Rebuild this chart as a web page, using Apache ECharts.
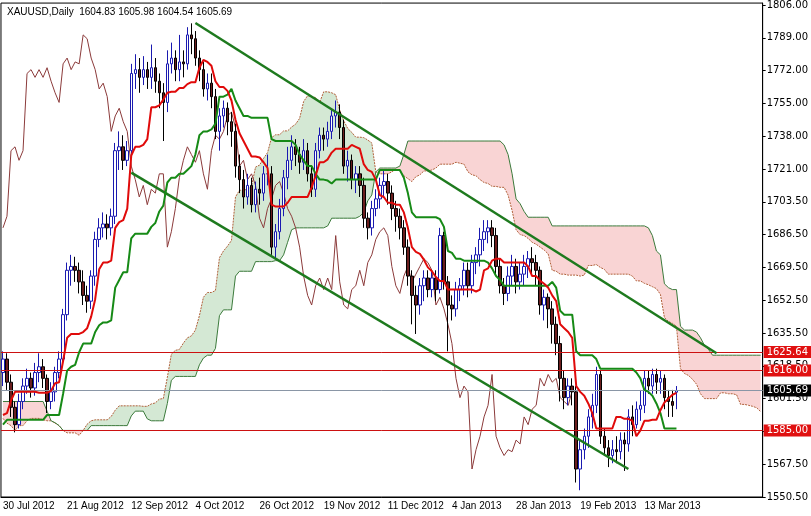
<!DOCTYPE html>
<html>
<head>
<meta charset="utf-8">
<script src="https://cdn.jsdelivr.net/npm/echarts@6/dist/echarts.min.js"></script>
<style>html,body{margin:0;padding:0;background:#fff}#main{width:811px;height:516px}</style>
</head>
<body>
<div id="main"></div>
<script>
// 标题
const titleText = 'XAUUSD,Daily  1604.83 1605.98 1604.54 1605.69'
// x轴日期标签 每16根K线一个
const xLabels = ['30 Jul 2012','21 Aug 2012','12 Sep 2012','4 Oct 2012','26 Oct 2012','19 Nov 2012','11 Dec 2012','4 Jan 2013','28 Jan 2013','19 Feb 2013','13 Mar 2013']
// y轴刻度标签
const yLabels = [1806.00,1789.00,1772.00,1755.00,1738.00,1721.00,1703.50,1686.50,1669.50,1652.50,1635.50,1618.50,1601.50,1584.50,1567.50,1550.50]
// 可见区间之前的最高/最低价 (用于一目均衡表计算)
const preHigh = [1655,1652,1645,1648,1650,1648,1645,1645,1660,1665,1668,1670,1660,1650,1648,1645,1640,1612,1600,1598,1590,1565,1555,1575,1600,1598,1590,1572,1565,1575,1580,1575,1560,1630,1625,1625,1640,1632,1605,1595,1600,1615,1625,1630,1628,1630,1625,1615,1595,1575,1595,1585,1580,1565,1605,1600,1625,1620,1615,1605,1590,1600,1575,1575,1595,1600,1590,1600,1590,1585,1582,1580,1605,1618,1625,1626,1622,1620]
const preLow = [1635,1638,1633,1635,1638,1636,1632,1636,1640,1650,1655,1652,1645,1632,1632,1630,1610,1590,1585,1578,1555,1540,1530,1535,1568,1575,1560,1550,1540,1555,1565,1555,1535,1545,1610,1605,1610,1580,1575,1570,1580,1590,1610,1612,1612,1615,1610,1580,1560,1560,1570,1570,1560,1550,1555,1590,1595,1605,1590,1575,1575,1575,1560,1555,1570,1575,1580,1580,1575,1570,1560,1562,1575,1600,1610,1605,1608,1605]
// K线 [开, 收, 低, 高]
const candles = [
[1615,1622,1608,1626],[1622,1610,1606,1625],[1610,1597,1592,1614],[1597,1588,1584,1600],[1588,1600,1586,1604],
[1600,1608,1596,1612],[1608,1612,1604,1617],[1612,1607,1602,1615],[1607,1615,1603,1620],[1615,1618,1610,1625],
[1618,1612,1607,1622],[1612,1600,1594,1614],[1600,1605,1596,1610],[1605,1615,1600,1618],[1615,1622,1612,1626],
[1622,1645,1618,1648],[1645,1668,1642,1672],[1668,1670,1660,1676],[1670,1668,1662,1675],[1668,1662,1656,1672],
[1662,1655,1650,1668],[1655,1652,1646,1660],[1652,1665,1648,1668],[1665,1684,1660,1688],[1684,1690,1680,1695],
[1690,1692,1685,1698],[1692,1690,1684,1697],[1690,1696,1686,1700],[1696,1730,1692,1734],[1730,1732,1720,1740],
[1732,1725,1720,1738],[1725,1730,1722,1735],[1730,1770,1728,1775],[1770,1772,1762,1780],[1772,1768,1760,1778],
[1768,1772,1764,1779],[1772,1768,1762,1776],[1768,1773,1762,1785],[1773,1766,1760,1778],[1766,1760,1752,1770],
[1760,1755,1735,1765],[1755,1775,1750,1782],[1775,1778,1770,1786],[1778,1772,1766,1782],[1772,1776,1766,1790],
[1776,1775,1768,1782],[1775,1790,1772,1794],[1790,1788,1780,1796],[1788,1778,1774,1792],[1778,1772,1766,1782],
[1772,1762,1758,1776],[1762,1765,1756,1770],[1765,1758,1752,1770],[1758,1740,1736,1762],[1740,1748,1730,1752],
[1748,1752,1742,1756],[1752,1745,1738,1755],[1745,1740,1732,1750],[1740,1722,1716,1744],[1722,1715,1708,1728],
[1715,1706,1700,1720],[1706,1712,1702,1718],[1712,1702,1698,1716],[1702,1710,1698,1714],[1710,1708,1702,1716],
[1708,1718,1704,1722],[1718,1718,1712,1728],[1718,1680,1676,1722],[1680,1688,1674,1692],[1688,1700,1684,1705],
[1700,1716,1696,1720],[1716,1725,1710,1732],[1725,1732,1720,1738],[1732,1728,1722,1736],[1728,1724,1718,1732],
[1724,1730,1720,1736],[1730,1718,1714,1734],[1718,1710,1706,1722],[1710,1730,1706,1734],[1730,1738,1726,1742],
[1738,1736,1730,1742],[1736,1740,1732,1745],[1740,1748,1736,1752],[1748,1750,1742,1756],[1750,1742,1736,1754],
[1742,1722,1718,1746],[1722,1725,1714,1730],[1725,1715,1710,1728],[1715,1718,1708,1722],[1718,1712,1706,1722],
[1712,1695,1690,1716],[1695,1690,1684,1698],[1690,1700,1686,1704],[1700,1705,1696,1710],[1705,1712,1700,1716],
[1712,1714,1706,1720],[1714,1708,1702,1718],[1708,1700,1694,1712],[1700,1696,1688,1704],[1696,1690,1684,1700],
[1690,1680,1676,1694],[1680,1665,1660,1684],[1665,1655,1640,1668],[1655,1650,1635,1660],[1650,1660,1645,1664],
[1660,1664,1652,1668],[1664,1658,1654,1668],[1658,1664,1654,1668],[1664,1658,1652,1668],[1658,1686,1656,1690],
[1686,1662,1658,1688],[1662,1650,1626,1665],[1650,1648,1642,1655],[1648,1658,1644,1662],[1658,1660,1652,1664],
[1660,1668,1655,1672],[1668,1660,1654,1672],[1660,1672,1656,1676],[1672,1676,1666,1680],[1676,1684,1670,1690],
[1684,1688,1678,1694],[1688,1690,1682,1694],[1690,1686,1680,1694],[1686,1670,1666,1690],[1670,1660,1656,1674],
[1660,1656,1650,1664],[1656,1665,1652,1670],[1665,1670,1660,1676],[1670,1662,1656,1674],[1662,1666,1658,1672],
[1666,1670,1660,1676],[1670,1674,1664,1678],[1674,1672,1666,1680],[1672,1668,1660,1676],[1668,1650,1645,1670],
[1650,1654,1642,1658],[1654,1648,1638,1656],[1648,1640,1630,1652],[1640,1630,1624,1644],[1630,1612,1600,1634],
[1612,1602,1596,1616],[1602,1608,1598,1612],[1608,1605,1598,1612],[1605,1565,1558,1608],[1565,1575,1554,1580],
[1575,1582,1570,1586],[1582,1592,1576,1596],[1592,1598,1586,1604],[1598,1614,1594,1618],[1614,1582,1578,1616],
[1582,1576,1572,1586],[1576,1572,1566,1580],[1572,1575,1568,1580],[1575,1574,1568,1582],[1574,1580,1570,1584],
[1580,1578,1564,1584],[1578,1592,1574,1596],[1592,1588,1582,1598],[1588,1596,1586,1600],[1596,1598,1590,1606],
[1598,1612,1594,1616],[1612,1608,1604,1616],[1608,1614,1604,1617],[1614,1610,1604,1617],[1610,1612,1604,1616],
[1612,1602,1596,1614],[1602,1600,1592,1606],[1600,1598,1592,1606],[1604.83,1605.69,1596,1608]
]
// 水平支撑阻力线
const redLevels = [1625.64, 1616.00, 1585.00]
const lastPrice = 1605.69
// 趋势通道 [K线序号, 价格]
const upperTrend = [[48, 1796.2], [178, 1625.0]]
const lowerTrend = [[32, 1718.6], [156, 1565.0]]

const N = 190
const P = preHigh.length
const H = preHigh.concat(candles.map(v => v[3]))
const L = preLow.concat(candles.map(v => v[2]))
function mid(g, n) {
  let hi = -Infinity, lo = Infinity
  for (let k = g - n + 1; k <= g; k++) { hi = Math.max(hi, H[k]); lo = Math.min(lo, L[k]) }
  return (hi + lo) / 2
}
const cats = [], tenkan = [], kijun = [], chikou = [], spanA = [], spanB = []
for (let i = 0; i < N; i++) {
  cats.push(String(i))
  tenkan.push(i < candles.length ? mid(i + P, 9) : null)
  kijun.push(i < candles.length ? mid(i + P, 26) : null)
  chikou.push(i + 26 < candles.length ? candles[i + 26][1] : null)
  const g = i + P - 26
  if (g < H.length) {
    spanA.push((mid(g, 9) + mid(g, 26)) / 2)
    spanB.push(mid(g, 52))
  } else { spanA.push(null); spanB.push(null) }
}
const base = spanA.map((a, i) => a == null ? null : Math.min(a, spanB[i]))
const greenBand = spanA.map((a, i) => a == null ? null : Math.max(a - spanB[i], 0))
const redBand = spanA.map((a, i) => a == null ? null : Math.max(spanB[i] - a, 0))

const myChart = echarts.init(document.querySelector('#main'))
const boxLabel = (bg) => ({
  show: true, position: 'end', distance: 1, formatter: p => p.value.toFixed(2),
  backgroundColor: bg, color: '#fff', fontSize: 10, fontFamily: 'DejaVu Sans', padding: [1, 3, 1, 3]
})
const option = {
  animation: false,
  title: { text: titleText, left: 2, top: 2, textStyle: { fontSize: 10, fontWeight: 'normal', color: '#000', fontFamily: 'Liberation Sans' } },
  grid: { left: 0, right: 40, top: 2, bottom: 19, show: true, borderColor: '#000', borderWidth: 1 },
  xAxis: {
    type: 'category', data: cats, boundaryGap: true,
    axisLine: { lineStyle: { color: '#000' } },
    axisTick: { interval: (i) => i % 16 === 0 && i / 16 < xLabels.length, length: 3, lineStyle: { color: '#000' } },
    axisLabel: {
      interval: (i) => i % 16 === 0 && i / 16 < xLabels.length,
      formatter: (v) => xLabels[Number(v) / 16] || '',
      align: 'left', color: '#000', fontSize: 10, fontFamily: 'Liberation Sans', margin: 4
    },
    splitLine: { show: false }
  },
  yAxis: {
    type: 'value', position: 'right', min: 1550.5, max: 1806.5, interval: 17, scale: true,
    axisLine: { show: true, lineStyle: { color: '#000' } },
    axisTick: { show: true, length: 3, lineStyle: { color: '#000' } },
    axisLabel: {
      color: '#000', fontSize: 10, fontFamily: 'DejaVu Sans', margin: 4,
      formatter: (v) => { const l = yLabels.find(x => Math.abs(x - v) < 1); return l ? l.toFixed(2) : '' }
    },
    splitLine: { show: false }
  },
  series: [
    { type: 'line', data: base, stack: 'cloud', symbol: 'none', lineStyle: { opacity: 0 }, z: 1 },
    { type: 'line', data: greenBand, stack: 'cloud', symbol: 'none', lineStyle: { opacity: 0 }, areaStyle: { color: 'rgba(40,140,40,0.2)', opacity: 1 }, z: 1 },
    { type: 'line', data: redBand, stack: 'cloud', symbol: 'none', lineStyle: { opacity: 0 }, areaStyle: { color: 'rgba(225,40,40,0.2)', opacity: 1 }, z: 1 },
    { type: 'line', data: spanA, symbol: 'none', lineStyle: { color: '#b0603a', width: 1, type: [2, 1] }, z: 2 },
    { type: 'line', data: spanB, symbol: 'none', lineStyle: { color: '#3b7a3b', width: 1 }, z: 2 },
    { type: 'line', data: chikou, symbol: 'none', lineStyle: { color: '#8b3a3a', width: 1 }, z: 3 },
    {
      type: 'candlestick', data: candles.map(v => [v[0], v[1], v[2], v[3]]), barWidth: 3, z: 4,
      itemStyle: { color: '#ffffff', color0: '#6b1e1e', borderColor: '#1a1ab0', borderColor0: '#000000', borderWidth: 1 },
      markLine: {
        symbol: 'none', silent: true, animation: false,
        data: [
          ...redLevels.map(v => ({ yAxis: v, lineStyle: { color: '#cc1111', width: 1, type: 'solid' }, label: boxLabel('#e01010') })),
          { yAxis: lastPrice, lineStyle: { color: '#8a96a6', width: 1, type: 'solid' }, label: boxLabel('#000') },
          [{ coord: [String(upperTrend[0][0]), upperTrend[0][1]], lineStyle: { color: '#1e7a1e', width: 2.5, type: 'solid' }, label: { show: false } },
           { coord: [String(upperTrend[1][0]), upperTrend[1][1]] }],
          [{ coord: [String(lowerTrend[0][0]), lowerTrend[0][1]], lineStyle: { color: '#1e7a1e', width: 2.5, type: 'solid' }, label: { show: false } },
           { coord: [String(lowerTrend[1][0]), lowerTrend[1][1]] }]
        ]
      }
    },
    { type: 'line', data: kijun, symbol: 'none', lineStyle: { color: '#168a16', width: 2 }, z: 5 },
    { type: 'line', data: tenkan, symbol: 'none', lineStyle: { color: '#e00a0a', width: 2 }, z: 6 }
  ]
}
myChart.setOption(option)
</script>
</body>
</html>
